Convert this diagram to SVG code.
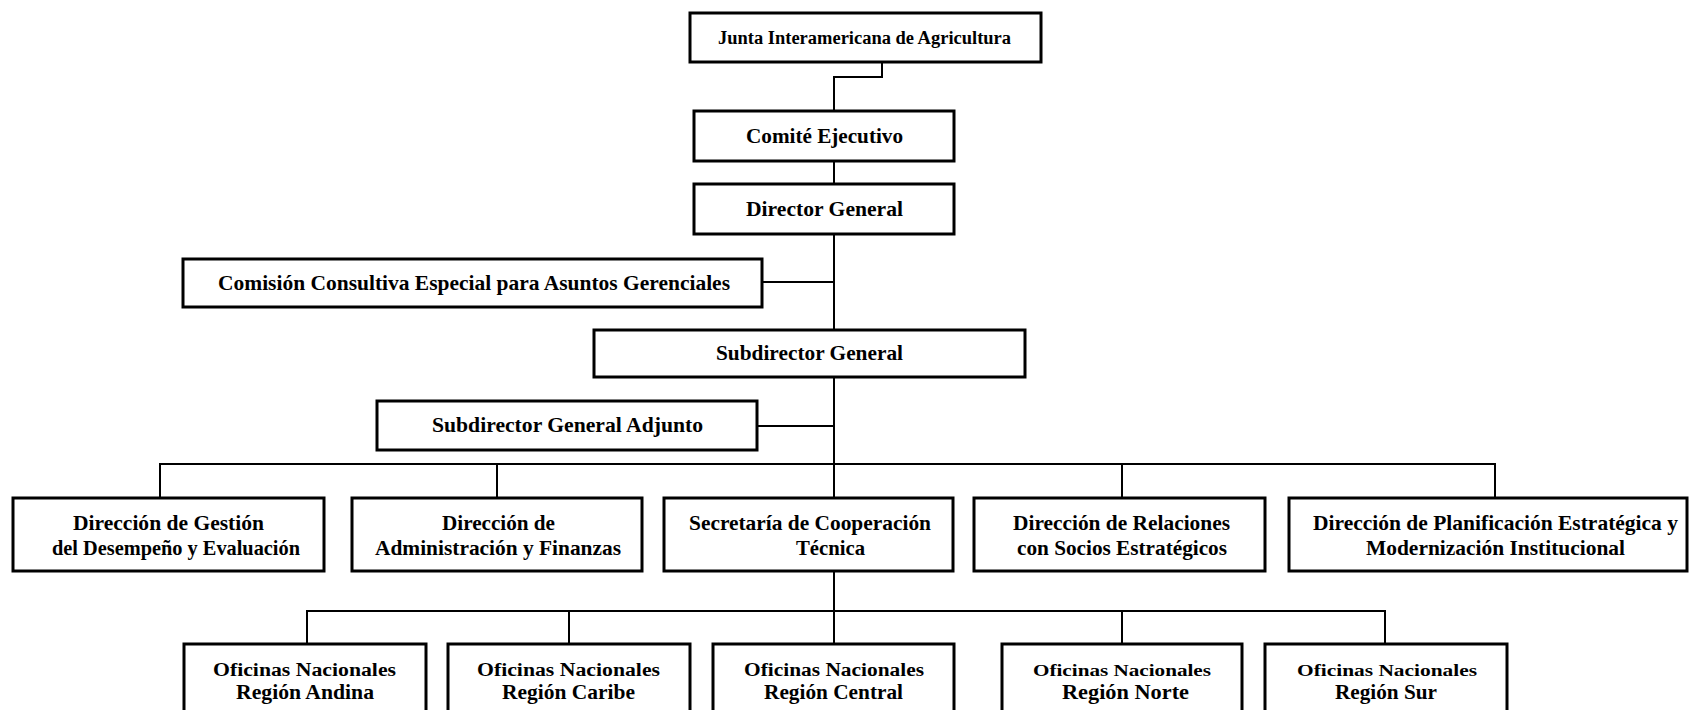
<svg xmlns="http://www.w3.org/2000/svg" width="1690" height="710" viewBox="0 0 1690 710">
<style>
.box{fill:#fff;stroke:#000;stroke-width:3}
.ln{fill:none;stroke:#000;stroke-width:2}
text{font-family:"Liberation Serif","Times New Roman",serif;font-weight:bold;fill:#000;text-anchor:middle}
.t18{font-size:18px}.t20{font-size:21px}.t21{font-size:22px}.t17{font-size:17px}
</style>
<rect width="1690" height="710" fill="#fff"/>
<g id="connectors">
<polyline class="ln" points="882,62 882,77 834,77 834,111"/>
<line class="ln" x1="834" y1="161" x2="834" y2="184"/>
<line class="ln" x1="834" y1="234" x2="834" y2="330"/>
<line class="ln" x1="762" y1="282" x2="834" y2="282"/>
<line class="ln" x1="834" y1="377" x2="834" y2="498"/>
<line class="ln" x1="757" y1="426" x2="834" y2="426"/>
<line class="ln" x1="159" y1="464" x2="1496" y2="464"/>
<line class="ln" x1="160" y1="464" x2="160" y2="498"/>
<line class="ln" x1="497" y1="464" x2="497" y2="498"/>
<line class="ln" x1="1122" y1="464" x2="1122" y2="498"/>
<line class="ln" x1="1495" y1="464" x2="1495" y2="498"/>
<line class="ln" x1="834" y1="571" x2="834" y2="644"/>
<line class="ln" x1="306" y1="611" x2="1386" y2="611"/>
<line class="ln" x1="307" y1="611" x2="307" y2="644"/>
<line class="ln" x1="569" y1="611" x2="569" y2="644"/>
<line class="ln" x1="1122" y1="611" x2="1122" y2="644"/>
<line class="ln" x1="1385" y1="611" x2="1385" y2="644"/>
</g>
<g id="junta"><rect class="box" x="690" y="13" width="351" height="49"/><text class="t18" x="864.5" y="44" textLength="293" lengthAdjust="spacingAndGlyphs">Junta Interamericana de Agricultura</text></g>
<g id="comite"><rect class="box" x="694" y="111" width="260" height="50"/><text class="t21" x="824.5" y="143" textLength="157" lengthAdjust="spacingAndGlyphs">Comité Ejecutivo</text></g>
<g id="director"><rect class="box" x="694" y="184" width="260" height="50"/><text class="t21" x="824.5" y="216" textLength="157" lengthAdjust="spacingAndGlyphs">Director General</text></g>
<g id="comision"><rect class="box" x="183" y="259" width="579" height="48"/><text class="t21" x="474" y="290" textLength="512" lengthAdjust="spacingAndGlyphs">Comisión Consultiva Especial para Asuntos Gerenciales</text></g>
<g id="subdirector"><rect class="box" x="594" y="330" width="431" height="47"/><text class="t21" x="809.5" y="360" textLength="187" lengthAdjust="spacingAndGlyphs">Subdirector General</text></g>
<g id="adjunto"><rect class="box" x="377" y="401" width="380" height="49"/><text class="t21" x="567.5" y="432" textLength="271" lengthAdjust="spacingAndGlyphs">Subdirector General Adjunto</text></g>
<g id="gestion"><rect class="box" x="13" y="498" width="311" height="73"/><text class="t20" x="168.5" y="530" textLength="191" lengthAdjust="spacingAndGlyphs">Dirección de Gestión</text><text class="t20" x="176" y="555" textLength="248" lengthAdjust="spacingAndGlyphs">del Desempeño y Evaluación</text></g>
<g id="administracion"><rect class="box" x="352" y="498" width="290" height="73"/><text class="t20" x="498.5" y="530" textLength="113" lengthAdjust="spacingAndGlyphs">Dirección de</text><text class="t20" x="498" y="555" textLength="246" lengthAdjust="spacingAndGlyphs">Administración y Finanzas</text></g>
<g id="secretaria"><rect class="box" x="664" y="498" width="289" height="73"/><text class="t20" x="810" y="530" textLength="242" lengthAdjust="spacingAndGlyphs">Secretaría de Cooperación</text><text class="t20" x="830.5" y="555" textLength="69" lengthAdjust="spacingAndGlyphs">Técnica</text></g>
<g id="relaciones"><rect class="box" x="974" y="498" width="291" height="73"/><text class="t20" x="1121.5" y="530" textLength="217" lengthAdjust="spacingAndGlyphs">Dirección de Relaciones</text><text class="t20" x="1122" y="555" textLength="210" lengthAdjust="spacingAndGlyphs">con Socios Estratégicos</text></g>
<g id="planificacion"><rect class="box" x="1289" y="498" width="398" height="73"/><text class="t20" x="1495.5" y="530" textLength="365" lengthAdjust="spacingAndGlyphs">Dirección de Planificación Estratégica y</text><text class="t20" x="1495.5" y="555" textLength="259" lengthAdjust="spacingAndGlyphs">Modernización Institucional</text></g>
<g id="andina"><rect class="box" x="184" y="644" width="242" height="75"/><text class="t18" x="304.5" y="676" textLength="183" lengthAdjust="spacingAndGlyphs">Oficinas Nacionales</text><text class="t20" x="305" y="699" textLength="138" lengthAdjust="spacingAndGlyphs">Región Andina</text></g>
<g id="caribe"><rect class="box" x="448" y="644" width="242" height="75"/><text class="t18" x="568.5" y="676" textLength="183" lengthAdjust="spacingAndGlyphs">Oficinas Nacionales</text><text class="t20" x="568.5" y="699" textLength="133" lengthAdjust="spacingAndGlyphs">Región Caribe</text></g>
<g id="central"><rect class="box" x="713" y="644" width="241" height="75"/><text class="t18" x="834" y="676" textLength="180" lengthAdjust="spacingAndGlyphs">Oficinas Nacionales</text><text class="t20" x="833.5" y="699" textLength="139" lengthAdjust="spacingAndGlyphs">Región Central</text></g>
<g id="norte"><rect class="box" x="1002" y="644" width="240" height="75"/><text class="t17" x="1122" y="676" textLength="178" lengthAdjust="spacingAndGlyphs">Oficinas Nacionales</text><text class="t20" x="1125.5" y="699" textLength="127" lengthAdjust="spacingAndGlyphs">Región Norte</text></g>
<g id="sur"><rect class="box" x="1265" y="644" width="242" height="75"/><text class="t17" x="1387" y="676" textLength="180" lengthAdjust="spacingAndGlyphs">Oficinas Nacionales</text><text class="t20" x="1386" y="699" textLength="102" lengthAdjust="spacingAndGlyphs">Región Sur</text></g>
</svg>
